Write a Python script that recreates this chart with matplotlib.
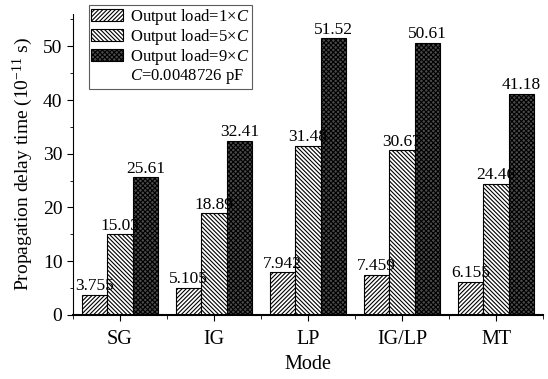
import matplotlib
matplotlib.use("Agg")
import matplotlib.pyplot as plt
import numpy as np
from matplotlib.patches import Patch
from matplotlib.ticker import MultipleLocator

plt.rcParams['font.family'] = ['Liberation Serif', 'DejaVu Serif']
plt.rcParams['mathtext.fontset'] = 'custom'
plt.rcParams['mathtext.rm'] = 'Liberation Serif'
plt.rcParams['mathtext.it'] = 'Liberation Serif:italic'
plt.rcParams['hatch.linewidth'] = 0.8

modes = ["SG", "IG", "LP", "IG/LP", "MT"]
load1 = [3.755, 5.105, 7.942, 7.459, 6.155]
load5 = [15.03, 18.89, 31.48, 30.67, 24.46]
load9 = [25.61, 32.41, 51.52, 50.61, 41.18]
labels1 = ["3.755", "5.105", "7.942", "7.459", "6.155"]
labels5 = ["15.03", "18.89", "31.48", "30.67", "24.46"]
labels9 = ["25.61", "32.41", "51.52", "50.61", "41.18"]
series_names = [r"Output load=1$\times$$\mathit{C}$",
                r"Output load=5$\times$$\mathit{C}$",
                r"Output load=9$\times$$\mathit{C}$"]

fig = plt.figure(figsize=(5.48, 3.79), dpi=100)
ax = fig.add_axes([0.133, 0.169, 0.858, 0.794])

x = np.arange(len(modes))
w = 0.27
hatches = ['////////', '\\\\\\\\\\\\\\\\', 'xxxxxxx']
faces = ['white', 'white', '#4a4a4a']
allvals = [load1, load5, load9]
alllabels = [labels1, labels5, labels9]
for i, (vals, labs) in enumerate(zip(allvals, alllabels)):
    xs = x + (i - 1) * w
    ax.bar(xs, vals, width=w, facecolor=faces[i], edgecolor='black',
           hatch=hatches[i], linewidth=0.8)
    for xi, v, lab in zip(xs, vals, labs):
        ax.text(xi, v + 0.1, lab, ha='center', va='bottom', fontsize=12.5)

ax.set_xlim(-0.5, 4.5)
ax.set_ylim(0, 56)
ax.set_xticks(x)
ax.set_xticklabels(modes, fontsize=14.5)
ax.set_xticks(np.arange(-0.5, 4.6, 1.0), minor=True)
ax.yaxis.set_major_locator(MultipleLocator(10))
ax.yaxis.set_minor_locator(MultipleLocator(5))
ax.tick_params(axis='y', labelsize=14, direction='out', length=4)
ax.tick_params(axis='y', which='minor', length=2.5)
ax.tick_params(axis='x', which='major', direction='out', length=4, pad=7)
ax.tick_params(axis='x', which='minor', direction='out', length=3)
ax.spines['top'].set_visible(False)
ax.spines['right'].set_visible(False)
ax.spines['bottom'].set_linewidth(1.5)
ax.set_xlabel("Mode", fontsize=14.5, labelpad=4)
ax.set_ylabel(r"Propagation delay time (10$^{-11}$ s)", fontsize=14, labelpad=6)

handles = [Patch(facecolor=faces[i], edgecolor='black', hatch=hatches[i], linewidth=0.8)
           for i in range(3)]
handles.append(Patch(facecolor='none', edgecolor='none'))
lbls = series_names + [r"$\mathit{C}$=0.0048726 pF"]
leg = fig.legend(handles, lbls, loc='upper left', bbox_to_anchor=(0.162, 0.988),
                 fontsize=12, frameon=True, fancybox=False, edgecolor='#333333',
                 handlelength=1.9, handleheight=0.7, handletextpad=0.45,
                 labelspacing=0.0, borderpad=0.15, borderaxespad=0)
leg.get_frame().set_linewidth(0.8)

fig.savefig("out.png", dpi=100)
